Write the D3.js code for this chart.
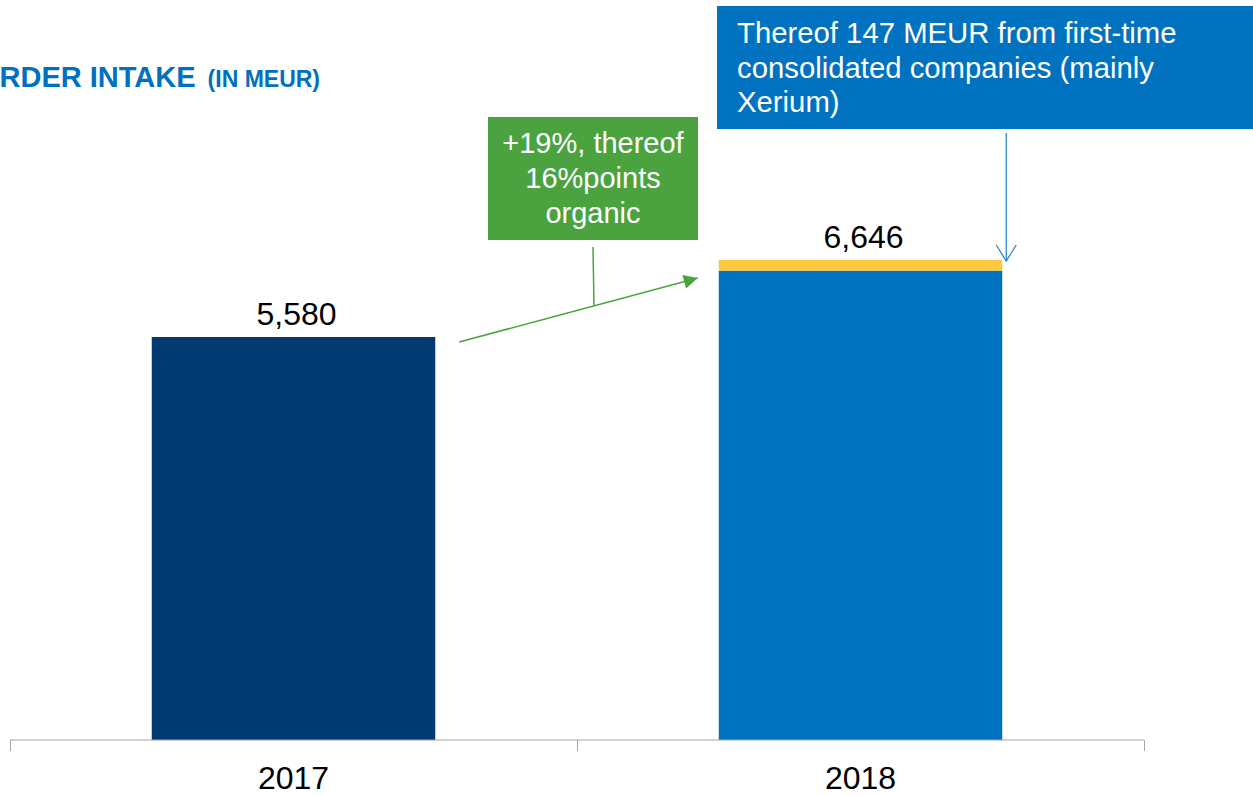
<!DOCTYPE html>
<html>
<head>
<meta charset="utf-8">
<script src="https://cdn.jsdelivr.net/npm/d3@7"></script>
<style>
  html, body { margin: 0; padding: 0; background: #ffffff; overflow: hidden; }
  svg { display: block; font-family: "Liberation Sans", Arial, sans-serif; }
</style>
</head>
<body>
<svg id="chart" width="1253" height="795"></svg>
<script>
// ---- data ----
const years = ["2017", "2018"];
const organic = [5580, 6499];          // base part of each bar
const acquired = [0, 147];             // first-time consolidated companies
const totals = [5580, 6646];
const totalLabels = ["5,580", "6,646"];
const titleMain = "ORDER INTAKE";
const titleSub = "(IN MEUR)";
const growthNote = ["+19%, thereof", "16%points", "organic"];
const acqNote = ["Thereof 147 MEUR from first-time", "consolidated companies (mainly", "Xerium)"];

const barColors = ["#003a70", "#0072bf"];
const acqColor = "#fdc93d";
const green = "#4aa33f";
const blue = "#0072bf";

const svg = d3.select("#chart");

const x = d3.scaleBand().domain(years).range([10, 1144]).paddingInner(0.5).paddingOuter(0.25);
const y = d3.scaleLinear().domain([0, 5580]).range([740, 337]);

// bars
const g = svg.append("g");
g.selectAll("rect.base").data(years).join("rect")
  .attr("class", "base")
  .attr("x", d => x(d))
  .attr("width", x.bandwidth())
  .attr("y", (d, i) => y(organic[i]))
  .attr("height", (d, i) => y(0) - y(organic[i]))
  .attr("fill", (d, i) => barColors[i]);

g.selectAll("rect.acq").data(years).join("rect")
  .attr("class", "acq")
  .attr("x", d => x(d))
  .attr("width", x.bandwidth())
  .attr("y", (d, i) => y(organic[i] + acquired[i]))
  .attr("height", (d, i) => y(organic[i]) - y(organic[i] + acquired[i]))
  .attr("fill", acqColor);

// value labels
g.selectAll("text.val").data(years).join("text")
  .attr("class", "val")
  .attr("x", d => x(d) + x.bandwidth() / 2 + 3)
  .attr("y", (d, i) => y(totals[i]) - 12)
  .attr("text-anchor", "middle")
  .attr("font-size", 32)
  .attr("fill", "#000")
  .text((d, i) => totalLabels[i]);

// axis
const step = x.step();
const axisY = y(0);
svg.append("line")
  .attr("x1", 10).attr("x2", 1144).attr("y1", axisY).attr("y2", axisY)
  .attr("stroke", "#a6a6a6").attr("stroke-width", 1);
const tickXs = [x(years[0]) - step * 0.25, x(years[0]) + step * 0.75, x(years[1]) + step * 0.75];
svg.selectAll("line.tick").data(tickXs).join("line")
  .attr("class", "tick")
  .attr("x1", d => Math.round(d) + 0.5).attr("x2", d => Math.round(d) + 0.5)
  .attr("y1", axisY).attr("y2", axisY + 11)
  .attr("stroke", "#a6a6a6").attr("stroke-width", 1);
svg.selectAll("text.year").data(years).join("text")
  .attr("class", "year")
  .attr("x", d => x(d) + x.bandwidth() / 2)
  .attr("y", 789)
  .attr("text-anchor", "middle")
  .attr("font-size", 32)
  .attr("fill", "#000")
  .text(d => d);

// title (left part is cut off by the page edge, as in the reference)
const title = svg.append("text").attr("x", -23).attr("y", 87)
  .attr("font-weight", "bold").attr("fill", "#0070c0");
title.append("tspan").attr("font-size", 29).text(titleMain);
title.append("tspan").attr("font-size", 23).attr("dx", 12).text(titleSub);

// defs for arrows
const defs = svg.append("defs");
defs.append("marker").attr("id", "gHead")
  .attr("viewBox", "0 0 10 10").attr("refX", 10).attr("refY", 5)
  .attr("markerUnits", "userSpaceOnUse")
  .attr("markerWidth", 18).attr("markerHeight", 14).attr("orient", "auto")
  .append("path").attr("d", "M0,0 L10,5 L0,10 Z").attr("fill", green);

// growth arrow from 2017 bar to 2018 bar
const ax1 = x(years[0]) + x.bandwidth() + 24, ay1 = y(totals[0]) + 5;
const ax2 = x(years[1]) - 21, ay2 = y(totals[1]) + 18;
svg.append("line")
  .attr("x1", ax1).attr("y1", ay1).attr("x2", ax2).attr("y2", ay2)
  .attr("stroke", green).attr("stroke-width", 1.5)
  .attr("marker-end", "url(#gHead)");

// green note box
const gb = { x: 488, y: 117, w: 210, h: 123 };
const connX = 594;
const connY = ay1 + (ay2 - ay1) * (connX - ax1) / (ax2 - ax1);
svg.append("rect").attr("x", gb.x).attr("y", gb.y).attr("width", gb.w).attr("height", gb.h).attr("fill", green);
svg.append("line").attr("x1", 593).attr("y1", gb.y + gb.h + 7).attr("x2", connX).attr("y2", connY)
  .attr("stroke", green).attr("stroke-width", 1.5);
svg.selectAll("text.gnote").data(growthNote).join("text")
  .attr("class", "gnote")
  .attr("x", gb.x + gb.w / 2)
  .attr("y", (d, i) => 153 + i * 35)
  .attr("text-anchor", "middle")
  .attr("font-size", 29)
  .attr("fill", "#fff")
  .text(d => d);

// blue note box
const bb = { x: 717, y: 6, w: 560, h: 123 };
svg.append("rect").attr("x", bb.x).attr("y", bb.y).attr("width", bb.w).attr("height", bb.h).attr("fill", blue);
svg.selectAll("text.bnote").data(acqNote).join("text")
  .attr("class", "bnote")
  .attr("x", 737)
  .attr("y", (d, i) => 43 + i * 34.5)
  .attr("font-size", 29.3)
  .attr("fill", "#fff")
  .text(d => d);

// blue arrow pointing at the acquired segment
const bx = x(years[1]) + x.bandwidth() + 4;
const tipY = y(totals[1]) + 1;
svg.append("line").attr("x1", bx).attr("y1", bb.y + bb.h + 4).attr("x2", bx).attr("y2", tipY)
  .attr("stroke", "#2e86cc").attr("stroke-width", 1.3);
svg.append("path")
  .attr("d", `M${bx - 10},${tipY - 16} L${bx},${tipY} L${bx + 10},${tipY - 16}`)
  .attr("fill", "none").attr("stroke", "#2e86cc").attr("stroke-width", 1.3);
</script>
</body>
</html>
